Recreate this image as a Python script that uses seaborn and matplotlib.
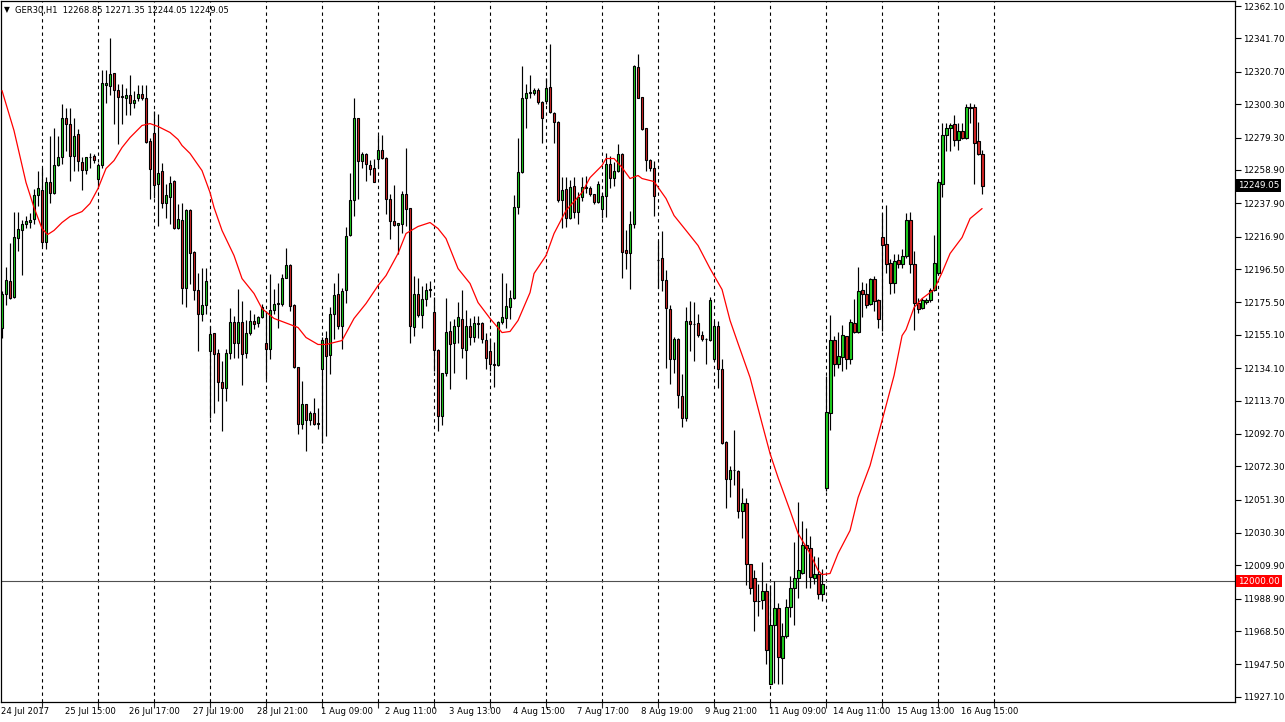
import matplotlib
matplotlib.use("Agg")
import matplotlib.pyplot as plt
import matplotlib.transforms as mtransforms
import numpy as np
import pandas as pd
import seaborn as sns

# ---------------- data ----------------
symbol = "GER30,H1"
opens = [12159.6, 12181.0, 12189.2, 12179.1, 12216.3, 12221.3, 12225.1, 12226.4, 12228.3, 12243.4,
         12246.5, 12213.8, 12251.6, 12244.6, 12262.3, 12267.3, 12291.3, 12288.1, 12267.9, 12281.8,
         12264.2, 12259.1, 12267.0, 12267.9, 12253.5, 12262.3, 12312.7, 12312.0, 12320.2, 12309.5,
         12305.5, 12304.5, 12306.4, 12301.3, 12303.9, 12307.0, 12304.5, 12277.4, 12282.4, 12250.3,
         12258.5, 12238.3, 12242.1, 12252.2, 12222.6, 12227.6, 12184.8, 12233.9, 12207.5, 12183.5,
         12168.4, 12174.1, 12145.1, 12156.4, 12143.8, 12125.6, 12121.8, 12143.8, 12163.4, 12150.1,
         12163.4, 12143.8, 12156.4, 12164.0, 12162.7, 12166.5, 12150.1, 12146.4, 12170.9, 12174.7,
         12174.7, 12191.1, 12199.3, 12174.1, 12135.0, 12099.1, 12111.7, 12101.6, 12106.0, 12099.1,
         12133.8, 12153.3, 12142.6, 12168.4, 12181.0, 12160.9, 12183.5, 12218.2, 12240.2, 12291.3,
         12264.8, 12269.2, 12262.3, 12260.4, 12266.1, 12271.7, 12266.7, 12240.9, 12227.0, 12224.5,
         12225.1, 12244.0, 12235.2, 12160.2, 12181.0, 12167.8, 12177.9, 12183.5, 12169.7, 12145.7,
         12104.2, 12131.2, 12157.7, 12150.1, 12160.9, 12165.3, 12145.7, 12160.9, 12153.9, 12162.7,
         12162.7, 12152.0, 12145.1, 12136.9, 12136.3, 12163.4, 12165.9, 12172.8, 12178.5, 12235.8,
         12257.9, 12303.9, 12307.6, 12307.6, 12309.5, 12302.0, 12302.6, 12311.4, 12295.0, 12289.4,
         12240.2, 12247.2, 12228.9, 12249.1, 12232.7, 12242.1, 12248.4, 12247.8, 12244.0, 12239.0,
         12234.6, 12242.8, 12262.9, 12254.1, 12258.5, 12269.2, 12208.7, 12206.8, 12225.1, 12324.0,
         12305.1, 12285.6, 12265.4, 12260.4, 12202.4, 12203.7, 12189.8, 12171.6, 12140.1, 12152.7,
         12116.7, 12102.9, 12164.0, 12162.1, 12162.7, 12155.2, 12152.7, 12152.0, 12140.1, 12160.9,
         12133.8, 12087.8, 12064.5, 12070.1, 12069.5, 12044.3, 12049.3, 12010.9, 12002.1, 11987.6,
         11988.2, 11993.9, 11935.3, 11972.5, 11983.2, 11951.7, 11965.6, 11983.8, 11995.8, 12002.1,
         12005.2, 12022.9, 12021.0, 12002.1, 12004.6, 11992.0, 12058.8, 12106.0, 12152.0, 12136.9,
         12141.4, 12154.6, 12140.1, 12162.7, 12157.1, 12183.5, 12181.0, 12174.7, 12190.5, 12177.2,
         12216.9, 12212.5, 12200.5, 12187.9, 12202.4, 12199.9, 12205.0, 12227.6, 12199.9, 12175.3,
         12172.2, 12176.0, 12177.2, 12183.5, 12194.2, 12250.3, 12281.2, 12285.6, 12288.1, 12278.0,
         12283.7, 12279.3, 12298.8, 12298.8, 12277.4, 12268.85]
highs = [12182.9, 12198.0, 12213.1, 12232.7, 12232.7, 12227.6, 12230.1, 12232.0, 12247.2, 12258.5,
         12260.4, 12254.7, 12280.5, 12285.6, 12280.5, 12300.7, 12297.6, 12297.6, 12291.3, 12285.0,
         12267.3, 12267.3, 12269.8, 12269.2, 12263.5, 12322.1, 12322.1, 12342.3, 12320.2, 12313.3,
         12313.3, 12310.8, 12319.0, 12308.9, 12312.7, 12312.7, 12312.7, 12279.3, 12296.3, 12294.4,
         12263.5, 12250.3, 12255.4, 12252.8, 12237.7, 12238.3, 12234.6, 12234.6, 12208.1, 12194.2,
         12197.4, 12197.4, 12160.9, 12156.4, 12146.4, 12138.8, 12146.4, 12172.2, 12167.2, 12184.2,
         12176.6, 12164.6, 12170.9, 12168.4, 12167.2, 12174.7, 12170.3, 12193.6, 12184.2, 12187.9,
         12193.6, 12210.0, 12199.9, 12174.7, 12135.0, 12126.2, 12111.7, 12107.3, 12115.5, 12109.2,
         12153.9, 12157.7, 12172.8, 12187.9, 12194.2, 12184.8, 12223.2, 12257.2, 12303.9, 12291.9,
         12270.5, 12269.8, 12265.4, 12266.1, 12281.2, 12281.2, 12267.3, 12244.0, 12249.7, 12225.7,
         12245.9, 12273.0, 12235.2, 12192.4, 12191.1, 12186.1, 12187.9, 12189.2, 12179.1, 12146.4,
         12131.2, 12178.5, 12164.0, 12165.3, 12176.0, 12183.5, 12170.9, 12165.9, 12167.2, 12167.2,
         12163.4, 12156.4, 12153.3, 12150.8, 12164.0, 12194.2, 12187.9, 12183.5, 12243.4, 12279.3,
         12324.6, 12313.3, 12319.0, 12310.8, 12310.8, 12302.6, 12316.5, 12337.9, 12295.7, 12290.0,
         12254.7, 12254.7, 12252.8, 12254.7, 12245.3, 12254.7, 12255.4, 12249.1, 12244.0, 12252.2,
         12244.6, 12269.8, 12267.9, 12264.2, 12275.5, 12269.8, 12221.3, 12233.3, 12325.3, 12332.2,
         12305.1, 12285.6, 12266.1, 12264.8, 12214.4, 12220.7, 12196.1, 12174.1, 12153.9, 12153.3,
         12130.6, 12172.8, 12176.6, 12176.0, 12168.4, 12157.7, 12153.3, 12179.1, 12164.0, 12164.0,
         12140.1, 12088.4, 12072.6, 12095.3, 12070.1, 12058.8, 12052.5, 12010.9, 12007.1, 11998.3,
         12012.2, 11999.0, 11997.7, 12000.2, 11986.3, 11973.7, 11988.9, 12003.3, 12024.8, 12050.0,
         12038.0, 12033.6, 12028.6, 12016.0, 12015.3, 12007.8, 12129.4, 12167.8, 12154.6, 12157.1,
         12161.5, 12154.6, 12165.3, 12177.9, 12198.0, 12188.6, 12187.9, 12191.1, 12192.4, 12177.9,
         12232.0, 12237.1, 12203.1, 12206.2, 12206.2, 12209.4, 12232.0, 12232.7, 12208.1, 12178.5,
         12178.5, 12178.5, 12184.8, 12218.2, 12252.8, 12288.7, 12288.7, 12288.7, 12293.8, 12288.7,
         12288.7, 12300.7, 12301.3, 12300.7, 12289.4, 12271.35]
lows = [12153.3, 12174.1, 12177.9, 12178.5, 12208.1, 12193.0, 12222.6, 12222.6, 12225.1, 12236.4,
        12211.3, 12209.4, 12238.3, 12244.0, 12261.6, 12262.9, 12271.1, 12252.2, 12258.5, 12258.5,
        12246.5, 12256.6, 12260.4, 12263.5, 12249.1, 12260.4, 12301.3, 12305.8, 12288.1, 12275.5,
        12288.1, 12293.2, 12293.2, 12297.6, 12302.6, 12303.2, 12276.1, 12240.9, 12241.5, 12223.9,
        12235.2, 12228.9, 12225.1, 12222.0, 12222.0, 12174.7, 12172.8, 12187.3, 12177.2, 12145.1,
        12164.0, 12168.4, 12102.9, 12106.0, 12113.6, 12094.7, 12113.6, 12140.1, 12140.7, 12140.7,
        12123.7, 12140.7, 12155.2, 12158.9, 12160.2, 12165.9, 12127.5, 12140.1, 12168.4, 12159.6,
        12173.5, 12191.1, 12170.3, 12134.4, 12092.8, 12096.0, 12082.1, 12098.5, 12098.5, 12096.0,
        12087.1, 12091.5, 12130.6, 12152.7, 12159.0, 12146.4, 12175.3, 12217.5, 12230.2, 12240.9,
        12260.4, 12252.2, 12256.0, 12251.6, 12260.4, 12266.1, 12231.4, 12215.7, 12223.9, 12206.2,
        12219.4, 12223.9, 12150.1, 12154.6, 12166.5, 12159.6, 12173.5, 12179.1, 12132.5, 12094.7,
        12098.5, 12129.4, 12121.2, 12131.2, 12150.1, 12140.7, 12127.5, 12148.9, 12150.8, 12153.3,
        12150.1, 12133.8, 12132.5, 12122.4, 12135.6, 12162.1, 12159.6, 12165.3, 12177.9, 12231.4,
        12257.2, 12285.6, 12303.9, 12306.4, 12300.7, 12276.1, 12300.7, 12295.0, 12276.1, 12239.0,
        12222.6, 12223.2, 12228.3, 12228.9, 12225.1, 12239.6, 12244.6, 12242.8, 12237.7, 12238.3,
        12228.9, 12229.5, 12247.8, 12249.1, 12257.9, 12191.1, 12196.8, 12184.2, 12222.6, 12303.9,
        12284.3, 12258.5, 12258.5, 12230.1, 12184.8, 12182.9, 12134.4, 12124.3, 12131.2, 12109.2,
        12097.2, 12101.0, 12145.1, 12138.8, 12153.9, 12151.4, 12136.9, 12151.4, 12138.8, 12121.8,
        12086.5, 12046.2, 12053.1, 12060.7, 12039.9, 12027.3, 11997.7, 11992.0, 11968.7, 11978.1,
        11982.6, 11947.9, 11935.3, 11935.9, 11935.3, 11935.3, 11964.3, 11977.5, 11972.5, 11989.5,
        12004.6, 11995.8, 11995.8, 11998.3, 11988.9, 11987.6, 12056.9, 12095.3, 12129.4, 12134.4,
        12132.5, 12133.8, 12136.9, 12156.4, 12156.4, 12166.5, 12172.2, 12174.1, 12170.3, 12159.6,
        12157.7, 12194.2, 12181.0, 12181.6, 12197.4, 12197.4, 12203.7, 12194.2, 12158.3, 12169.1,
        12171.6, 12174.7, 12176.0, 12182.9, 12193.6, 12242.1, 12271.1, 12271.1, 12274.2, 12271.7,
        12278.7, 12278.7, 12288.7, 12250.3, 12268.6, 12244.05]
closes = [12181.0, 12189.8, 12178.5, 12216.9, 12222.0, 12225.1, 12227.0, 12227.6, 12243.4, 12247.8,
          12213.8, 12251.6, 12244.6, 12262.3, 12267.3, 12291.3, 12288.1, 12267.9, 12280.5, 12264.8,
          12259.1, 12267.3, 12267.3, 12265.4, 12262.3, 12313.9, 12313.9, 12319.6, 12309.5, 12305.1,
          12305.1, 12306.4, 12301.3, 12303.2, 12307.0, 12303.9, 12276.8, 12259.8, 12249.7, 12257.2,
          12238.3, 12243.4, 12250.9, 12222.6, 12228.3, 12184.8, 12233.9, 12206.8, 12183.5, 12168.4,
          12174.1, 12189.2, 12155.8, 12143.2, 12125.6, 12121.8, 12143.8, 12163.4, 12150.1, 12163.4,
          12143.2, 12156.4, 12164.0, 12162.1, 12166.5, 12172.8, 12146.4, 12170.9, 12174.7, 12175.3,
          12191.1, 12199.3, 12173.5, 12135.0, 12099.1, 12111.7, 12101.6, 12106.0, 12099.1, 12099.4,
          12152.0, 12142.0, 12168.4, 12180.4, 12160.9, 12182.9, 12217.5, 12240.2, 12291.9, 12264.8,
          12269.2, 12262.9, 12259.8, 12251.6, 12271.7, 12266.7, 12240.9, 12227.0, 12224.5, 12225.7,
          12244.0, 12234.6, 12160.9, 12181.0, 12167.8, 12177.9, 12183.5, 12184.2, 12145.7, 12104.2,
          12131.2, 12157.1, 12149.5, 12160.9, 12166.5, 12147.0, 12160.9, 12153.9, 12162.7, 12162.1,
          12152.7, 12140.7, 12136.9, 12136.3, 12163.4, 12166.5, 12173.5, 12178.5, 12235.8, 12257.9,
          12303.9, 12307.6, 12307.9, 12309.5, 12302.0, 12291.9, 12310.2, 12295.7, 12289.4, 12240.2,
          12246.5, 12228.9, 12248.4, 12232.7, 12242.1, 12248.4, 12247.5, 12244.0, 12239.0, 12250.3,
          12242.8, 12262.9, 12254.1, 12258.5, 12269.2, 12207.5, 12206.8, 12225.1, 12324.6, 12304.5,
          12285.0, 12265.4, 12260.4, 12242.8, 12202.1, 12189.8, 12172.2, 12140.1, 12152.7, 12117.4,
          12102.9, 12164.0, 12162.1, 12161.8, 12155.2, 12152.7, 12152.4, 12177.2, 12160.9, 12133.8,
          12087.1, 12064.5, 12070.1, 12069.8, 12044.3, 12049.3, 12010.9, 11995.8, 11987.6, 11987.3,
          11993.9, 11956.7, 11972.5, 11983.2, 11952.3, 11965.6, 11983.8, 11995.8, 12002.1, 12007.1,
          12022.9, 12021.0, 12002.7, 12004.6, 11992.0, 11998.3, 12106.7, 12152.0, 12136.9, 12142.0,
          12155.2, 12140.1, 12163.4, 12157.1, 12182.9, 12181.0, 12174.1, 12190.5, 12176.6, 12165.3,
          12211.9, 12199.9, 12187.9, 12201.8, 12199.9, 12205.0, 12227.6, 12199.9, 12175.3, 12171.6,
          12177.2, 12177.2, 12183.5, 12200.5, 12251.6, 12281.2, 12285.6, 12287.5, 12278.0, 12283.7,
          12279.3, 12298.8, 12298.2, 12276.1, 12269.2, 12249.05]

# moving average (red line): bar index -> price
ma_bars = [0, 3, 6, 8, 10, 11.4, 13, 15, 17, 20, 22, 24, 26, 28, 30, 32, 35, 37, 39, 42, 44, 45, 47,
           50, 52, 53, 55, 58, 60, 63, 65, 68, 70, 74, 76, 79, 81, 85, 88, 91, 94, 96, 99, 101, 104,
           107, 109, 111, 114, 117, 119, 122, 125, 127, 129, 132, 133, 136, 138, 141, 145, 147, 150,
           151, 153, 155, 157, 159, 160, 163, 166, 168, 171, 174, 177, 180, 182, 184, 187, 190, 192,
           194, 197, 199, 202, 204, 205, 207, 209, 212, 214, 217, 220, 223, 225, 226, 228, 230, 233,
           235, 237, 240, 242, 245]
ma_vals = [12308.9, 12283.7, 12251.0, 12235.3, 12222.0, 12218.2, 12220.8, 12225.8, 12229.6, 12232.7,
           12237.8, 12247.2, 12259.8, 12264.8, 12273.0, 12279.3, 12286.9, 12288.1, 12286.3, 12282.5,
           12278.1, 12274.3, 12269.3, 12258.5, 12244.7, 12235.3, 12220.8, 12205.0, 12190.5, 12181.1,
           12171.6, 12165.4, 12163.5, 12159.7, 12153.4, 12149.0, 12149.0, 12151.5, 12165.4, 12174.8,
           12186.1, 12192.4, 12206.3, 12218.9, 12223.3, 12225.8, 12222.0, 12215.7, 12196.8, 12187.4,
           12175.4, 12165.4, 12156.5, 12157.2, 12164.1, 12181.7, 12193.7, 12205.0, 12218.9, 12233.4,
           12244.7, 12254.1, 12261.7, 12266.1, 12266.1, 12260.4, 12253.5, 12255.4, 12253.5, 12251.6,
           12240.9, 12230.2, 12220.8, 12211.3, 12196.8, 12183.6, 12164.1, 12149.6, 12128.2, 12099.2,
           12080.3, 12065.2, 12044.4, 12030.0, 12017.4, 12006.7, 12004.1, 12004.8, 12017.4, 12031.9,
           12052.6, 12072.8, 12101.1, 12129.5, 12154.6, 12158.4, 12172.3, 12177.9, 12183.6, 12194.3,
           12206.3, 12216.4, 12228.3, 12234.6]

date_label_bars = [0, 16, 32, 48, 64, 80, 96, 112, 128, 144, 160, 176, 192, 208, 224, 240]
date_labels = ["24 Jul 2017", "25 Jul 15:00", "26 Jul 17:00", "27 Jul 19:00", "28 Jul 21:00",
               "1 Aug 09:00", "2 Aug 11:00", "3 Aug 13:00", "4 Aug 15:00", "7 Aug 17:00",
               "8 Aug 19:00", "9 Aug 21:00", "11 Aug 09:00", "14 Aug 11:00", "15 Aug 13:00",
               "16 Aug 15:00"]
grid_bars = [10, 24, 38, 52, 66, 80, 94, 108, 122, 136, 150, 164, 178, 192, 206, 220, 234, 248]
price_ticks = [12362.10, 12341.70, 12320.70, 12300.30, 12279.30, 12258.90, 12237.90, 12216.90,
               12196.50, 12175.50, 12155.10, 12134.10, 12113.70, 12092.70, 12072.30, 12051.30,
               12030.30, 12009.90, 11988.90, 11968.50, 11947.50, 11927.10]
level_line = 12000.00

# ---------------- figure ----------------
sns.set_style("white")
plt.rcParams['font.family'] = ['DejaVu Sans']

W, H = 1285, 722
fig = plt.figure(figsize=(W / 100, H / 100), dpi=100)
ax_left, ax_right_px, ax_bottom_px = 0.5, 1234.5, 701.5
ax = fig.add_axes([ax_left / W, 1 - ax_bottom_px / H, (ax_right_px - ax_left) / W, (ax_bottom_px - 0.5) / H])

df = pd.DataFrame({"open": opens, "high": highs, "low": lows, "close": closes})
df["bar"] = np.arange(len(df))
up = df["close"] >= df["open"]
body_bottom = np.minimum(df["open"], df["close"])
body_h = np.maximum(np.abs(df["close"] - df["open"]), 0.15)
colors = np.where(up, "#1ed21e", "#d42424")

# grid (dashed verticals)
for gb in grid_bars:
    ax.axvline(gb, color="black", lw=0.8, ls=(0, (3, 3)), zorder=1)

# level line
ax.axhline(level_line, color="#505050", lw=0.8, zorder=1)

# wicks
ax.vlines(df["bar"], df["low"], df["high"], color="black", lw=0.85, zorder=2)
# bodies
ax.bar(df["bar"], body_h, bottom=body_bottom, width=0.72, color=colors,
       edgecolor="black", linewidth=0.8, zorder=3)

# moving average
ma_df = pd.DataFrame({"bar": ma_bars, "ma": ma_vals})
sns.lineplot(data=ma_df, x="bar", y="ma", ax=ax, color="red", lw=0.9, sort=False, zorder=4,
             estimator=None)

# axes limits: 4 px per bar, bar k centered at 1.5 + 4k px
ax.set_xlim(-0.375, 308.1)
ax.set_ylim(11924.2, 12365.6)
ax.set_xlabel("")
ax.set_ylabel("")

for s in ax.spines.values():
    s.set_color("black")
    s.set_linewidth(0.9)

ax.yaxis.tick_right()
ax.set_yticks(price_ticks)
ax.set_yticklabels([f"{v:.2f}" for v in price_ticks])
ax.tick_params(axis="y", which="both", direction="out", length=4, width=0.8, pad=2,
               labelsize=6.3, colors="black", right=True, left=False)
ax.set_xticks(grid_bars)
ax.set_xticklabels([])
ax.tick_params(axis="x", direction="out", length=4, width=0.8, bottom=True)

# date labels
trans_x = mtransforms.blended_transform_factory(ax.transData, ax.transAxes)
for b, lab in zip(date_label_bars, date_labels):
    ax.text(b - 0.2, -0.0145, lab, transform=trans_x, ha="left", va="center",
            fontsize=6.1, color="black", clip_on=False)

# price boxes on the right axis
trans_y = mtransforms.blended_transform_factory(ax.transAxes, ax.transData)
ax.text(1.0 + 3.5 / 1234, closes[-1], f"{closes[-1]:.2f}", transform=trans_y, ha="left",
        va="center", fontsize=6.3, color="white", zorder=10, clip_on=False,
        bbox=dict(facecolor="black", edgecolor="none", boxstyle="square,pad=0.2"))
ax.text(1.0 + 3.5 / 1234, level_line, f"{level_line:.2f}", transform=trans_y, ha="left",
        va="center", fontsize=6.3, color="white", zorder=10, clip_on=False,
        bbox=dict(facecolor="#ff0000", edgecolor="none", boxstyle="square,pad=0.2"))

# header
hdr = f"{symbol}  {opens[-1]:.2f} {highs[-1]:.2f} {lows[-1]:.2f} {closes[-1]:.2f}"
fig.text(4 / W, 1 - 10 / H, "\u25BC", fontsize=5.5, color="black", va="center", ha="left")
fig.text(15 / W, 1 - 10 / H, hdr, fontsize=6.0, color="black", va="center", ha="left")

fig.savefig("out.png", dpi=100)
